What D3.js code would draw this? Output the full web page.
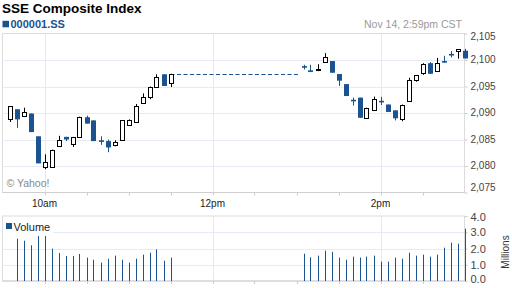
<!DOCTYPE html>
<html lang="en">
<head>
<meta charset="utf-8" />
<title>SSE Composite Index</title>
<script src="https://cdn.jsdelivr.net/npm/d3@7"></script>
<style>
  body { margin: 0; background: #fff; }
  svg text { font-family: Arial, "Liberation Sans", sans-serif; }
</style>
</head>
<body>
<script>
var w = 512, h = 288;
var blue = "#1b5290";

// 5 minute bars, morning session then afternoon session
var times = ["9:35","9:40","9:45","9:50","9:55","10:00","10:05","10:10","10:15","10:20","10:25","10:30",
             "10:35","10:40","10:45","10:50","10:55","11:00","11:05","11:10","11:15","11:20","11:25","11:30",
             "13:05","13:10","13:15","13:20","13:25","13:30","13:35","13:40","13:45","13:50","13:55","14:00",
             "14:05","14:10","14:15","14:20","14:25","14:30","14:35","14:40","14:45","14:50","14:55","15:00"];
var open  = [2088.8,2090.7,2089.4,2089.9,2085.6,2079.9,2079.9,2083.8,2085.5,2084.2,2085.5,2089.2,
             2088.6,2084.85,2084.7,2084.0,2085.0,2087.8,2088.3,2091.8,2093.1,2095.0,2097.3,2095.6,
             2098.85,2098.05,2098.3,2099.6,2099.8,2097.35,2095.45,2092.5,2092.9,2089.15,2090.5,2092.3,
             2091.6,2090.5,2088.8,2092.2,2096.15,2097.5,2099.4,2097.85,2099.8,2101.15,2101.65,2101.75];
var high  = [2091.3,2090.7,2091.0,2089.9,2085.6,2082.2,2083.1,2085.7,2085.5,2085.5,2089.3,2089.5,
             2088.6,2085.6,2085.0,2084.85,2088.6,2088.8,2091.7,2093.7,2095.0,2097.3,2097.3,2097.4,
             2099.1,2099.1,2099.2,2101.3,2099.8,2097.35,2095.45,2092.9,2092.9,2091.0,2093.1,2093.05,
             2091.6,2090.5,2091.6,2096.65,2097.1,2099.4,2099.6,2100.4,2100.8,2101.7,2102.05,2102.1];
var low   = [2088.3,2087.2,2089.4,2086.4,2080.5,2079.4,2079.9,2083.8,2084.7,2083.6,2085.5,2088.0,
             2084.7,2084.0,2082.6,2083.7,2085.0,2087.8,2088.3,2091.8,2092.6,2095.0,2095.1,2094.9,
             2098.2,2097.7,2097.9,2099.6,2097.6,2095.1,2093.2,2091.4,2089.1,2089.15,2090.5,2091.5,
             2090.2,2088.6,2088.45,2092.2,2095.9,2097.2,2097.4,2097.85,2099.5,2100.5,2100.25,2100.3];
var close = [2091.3,2088.8,2090.1,2086.4,2080.5,2080.7,2083.1,2085.0,2085.0,2085.5,2089.3,2088.0,
             2084.7,2084.7,2083.5,2084.6,2088.6,2088.6,2091.4,2093.1,2095.0,2096.7,2095.1,2097.4,
             2098.7,2097.85,2098.3,2100.6,2097.6,2096.1,2093.2,2092.3,2089.1,2091.0,2092.6,2092.1,
             2090.2,2089.0,2091.6,2096.2,2097.1,2099.25,2097.4,2099.4,2099.5,2101.0,2102.05,2100.3];
// volume in millions
var volume = [null,2.6,2.48,2.2,2.9,2.77,1.99,1.72,1.54,1.54,1.66,1.44,
              1.31,1.13,1.37,1.56,1.31,1.13,1.37,1.62,1.74,1.95,1.25,1.44,
              1.68,1.46,1.56,1.87,1.8,1.44,1.31,1.5,1.44,1.5,1.56,1.19,
              1.19,1.44,1.37,1.74,1.56,1.62,1.5,1.62,2.05,2.36,2.3,3.22];

var sessionStart = "9:30", sessionEnd = "15:00", lunchEnd = "13:00";
var priceTicks = [2075, 2080, 2085, 2090, 2095, 2100, 2105];
var volTicks = [0, 1, 2, 3, 4];
var tickTimes = ["10:00","10:30","11:00","11:30","12:00","12:30","13:00","13:30","14:00","14:30"];
var labelTimes = ["10:00","12:00","14:00"];
var labelText = ["10am","12pm","2pm"];

var parse = d3.timeParse("%H:%M");
var bars = times.map(function (t, i) {
  return { t: parse(t), o: open[i], h: high[i], l: low[i], c: close[i], v: volume[i] };
});

var left = 2.5, right = 464.5;
var top1 = 33.5, bot1 = 192.5, top2 = 216, bot2 = 281;

var x = d3.scaleTime().domain([parse(sessionStart), parse(sessionEnd)]).range([left, right]);
var y = d3.scaleLinear().domain([2075, 2105]).range([bot1, top1]);
var yv = d3.scaleLinear().domain([0, 4]).range([bot2, top2]);

var svg = d3.select("body").append("svg").attr("width", w).attr("height", h);

// header
svg.append("text").attr("x", 2).attr("y", 12.5).attr("font-size", 13.5).attr("font-weight", "bold")
  .attr("fill", "#000").text("SSE Composite Index");
svg.append("rect").attr("x", 2.5).attr("y", 20.8).attr("width", 6.5).attr("height", 6.5).attr("fill", blue);
svg.append("text").attr("x", 10.5).attr("y", 27.5).attr("font-size", 11).attr("font-weight", "bold")
  .attr("fill", blue).text("000001.SS");
svg.append("text").attr("x", 462).attr("y", 27.5).attr("font-size", 10.5).attr("fill", "#999")
  .attr("text-anchor", "end").text("Nov 14, 2:59pm CST");

function panel(yTop, yBot) {
  var g = svg.append("g");
  g.append("rect").attr("x", left).attr("y", yTop).attr("width", right - left).attr("height", yBot - yTop)
    .attr("fill", "#fff").attr("stroke", "#dcdcdc");
  g.selectAll(".vg").data(labelTimes).enter().append("line")
    .attr("x1", function (d) { return Math.round(x(parse(d))) + 0.5; })
    .attr("x2", function (d) { return Math.round(x(parse(d))) + 0.5; })
    .attr("y1", yTop).attr("y2", yBot).attr("stroke", "#e6eaf2");
  // half hour ticks
  g.selectAll(".tk").data(tickTimes).enter().append("line")
    .attr("x1", function (d) { return Math.round(x(parse(d))) + 0.5; })
    .attr("x2", function (d) { return Math.round(x(parse(d))) + 0.5; })
    .attr("y1", yBot).attr("y2", yBot + 3).attr("stroke", "#ccc");
  return g;
}

// price panel
var g1 = panel(top1, bot1);
g1.selectAll(".hg").data(priceTicks.slice(1, -1)).enter().append("line")
  .attr("x1", left).attr("x2", right)
  .attr("y1", function (d) { return Math.round(y(d)) + 0.5; })
  .attr("y2", function (d) { return Math.round(y(d)) + 0.5; })
  .attr("stroke", "#e6eaf2");
g1.append("line").attr("x1", left).attr("x2", right).attr("y1", bot1).attr("y2", bot1).attr("stroke", "#cfcfcf");

svg.append("g").attr("transform", "translate(" + right + ",0)")
  .call(d3.axisRight(y).tickValues(priceTicks).tickFormat(d3.format(",")).tickSize(3).tickPadding(3))
  .call(function (a) {
    a.select(".domain").remove();
    a.selectAll(".tick line").attr("stroke", "#ccc");
    a.selectAll(".tick text").attr("font-size", 10).attr("fill", "#444").attr("font-family", null)
      .attr("dy", null)
      .attr("y", function (d) { return Math.max(39.3, Math.min(190.7, y(d) + 2.5)) - y(d); });
  });

svg.selectAll(".xl").data(labelTimes).enter().append("text")
  .attr("x", function (d) { return x(parse(d)); }).attr("y", 207)
  .attr("text-anchor", "middle").attr("font-size", 10).attr("fill", "#222")
  .text(function (d, i) { return labelText[i]; });

svg.append("text").attr("x", 6.5).attr("y", 187.3).attr("font-size", 10.5).attr("fill", "#888").text("\u00a9 Yahoo!");

// lunch break line
var lastAm = bars[23];
svg.append("line")
  .attr("x1", x(lastAm.t)).attr("x2", x(parse(lunchEnd)) + 1.5)
  .attr("y1", Math.round(y(lastAm.c)) + 0.5).attr("y2", Math.round(y(lastAm.c)) + 0.5)
  .attr("stroke", blue).attr("stroke-width", 1.2).attr("stroke-dasharray", "4,2.5");

function up(d) { return d.c >= d.o; }
function px(d) { return Math.round(x(d.t)); }

svg.selectAll(".wick").data(bars).enter().append("line")
  .attr("x1", function (d) { return px(d) + 0.5; })
  .attr("x2", function (d) { return px(d) + 0.5; })
  .attr("y1", function (d) { return y(d.h); })
  .attr("y2", function (d) { return y(d.l); })
  .attr("stroke", function (d) { return up(d) ? "#000" : blue; });

svg.selectAll(".body").data(bars).enter().append("rect")
  .attr("x", function (d) { return up(d) ? px(d) - 1.5 : px(d) - 2; })
  .attr("width", function (d) { return up(d) ? 4 : 5; })
  .attr("y", function (d) {
    return up(d) ? Math.round(y(d.c)) + 0.5 : y(d.o);
  })
  .attr("height", function (d) {
    return up(d) ? Math.max(1, Math.round(y(d.o)) - Math.round(y(d.c)))
                 : Math.max(1.6, y(d.c) - y(d.o));
  })
  .attr("fill", function (d) { return up(d) ? "#fff" : blue; })
  .attr("stroke", function (d) { return up(d) ? "#000" : "none"; });

// volume panel
var g2 = panel(top2, bot2);
g2.selectAll(".hg").data(volTicks.slice(1, -1)).enter().append("line")
  .attr("x1", left).attr("x2", right)
  .attr("y1", function (d) { return Math.round(yv(d)) + 0.5; })
  .attr("y2", function (d) { return Math.round(yv(d)) + 0.5; })
  .attr("stroke", "#e6eaf2");
g2.append("line").attr("x1", left).attr("x2", right).attr("y1", bot2).attr("y2", bot2).attr("stroke", "#cfcfcf");

svg.append("g").attr("transform", "translate(" + right + ",0)")
  .call(d3.axisRight(yv).tickValues(volTicks).tickFormat(d3.format(".1f")).tickSize(3).tickPadding(3))
  .call(function (a) {
    a.select(".domain").remove();
    a.selectAll(".tick line").attr("stroke", "#ccc");
    a.selectAll(".tick text").attr("font-size", 11).attr("fill", "#444").attr("font-family", null)
      .attr("dy", null)
      .attr("y", function (d) { return Math.max(220.7, Math.min(282.5, yv(d) + 3.7)) - yv(d); });
  });

svg.append("text").attr("transform", "translate(509," + 252 + ") rotate(-90)")
  .attr("text-anchor", "middle").attr("font-size", 10).attr("fill", "#333").text("Millions");

svg.selectAll(".vol").data(bars.filter(function (d) { return d.v != null; })).enter().append("line")
  .attr("x1", function (d) { return px(d) + 0.5; })
  .attr("x2", function (d) { return px(d) + 0.5; })
  .attr("y1", yv(0))
  .attr("y2", function (d) { return yv(d.v); })
  .attr("stroke", blue).attr("stroke-width", 1);

// legend
svg.append("rect").attr("x", 3).attr("y", 217).attr("width", 50).attr("height", 19).attr("fill", "#fff");
svg.append("rect").attr("x", 6).attr("y", 223).attr("width", 6).attr("height", 6).attr("fill", blue);
svg.append("text").attr("x", 13.5).attr("y", 230.7).attr("font-size", 11).attr("fill", "#222").text("Volume");
</script>
</body>
</html>
